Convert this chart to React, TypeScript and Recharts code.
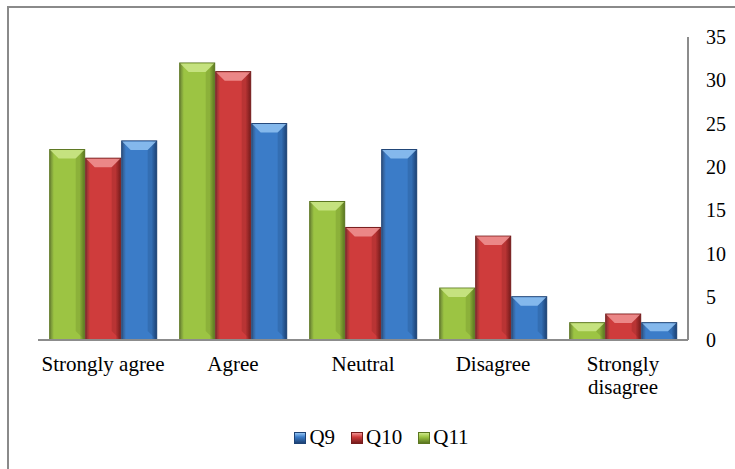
import React from "react"
import { BarChart, Bar, XAxis, YAxis } from "recharts"

const categories = ["Strongly agree", "Agree", "Neutral", "Disagree", "Strongly disagree"]
const q9 = [23, 25, 22, 5, 2]
const q10 = [21, 31, 13, 12, 3]
const q11 = [22, 32, 16, 6, 2]
const yTicks = [0, 5, 10, 15, 20, 25, 30, 35]

const data = categories.map((c, i) => ({ name: c, Q9: q9[i], Q10: q10[i], Q11: q11[i] }))

const FONT = "'Liberation Serif', 'Times New Roman', serif"

const palette: Record<string, { base: string; light: string; dark: string }> = {
    Q9: { base: "#3b7cc8", light: "#92c3f2", dark: "#1d4275" },
    Q10: { base: "#cf3c3c", light: "#f09494", dark: "#761c1c" },
    Q11: { base: "#9cc443", light: "#cde789", dark: "#5b7620" },
}

// beveled bar like the office 3d style
function makeShape(key: string) {
    const col = palette[key]
    // eslint-disable-next-line @typescript-eslint/no-explicit-any
    return (props: any) => {
        const { x, y, width, height } = props
        if (!height || height <= 0) return <g />
        const b = Math.min(9, height / 2, width / 3)
        return (
            <g>
                <rect x={x} y={y} width={width} height={height} fill={`url(#g-${key})`} stroke={col.dark} strokeWidth={1} />
                <polygon
                    points={`${x + 0.5},${y + 0.5} ${x + width - 0.5},${y + 0.5} ${x + width - b},${y + b} ${x + b},${y + b}`}
                    fill={col.light}
                    opacity={0.85}
                />
                <polygon
                    points={`${x + width - 0.5},${y + 0.5} ${x + width - 0.5},${y + height - 0.5} ${x + width - b},${y + height - b} ${x + width - b},${y + b}`}
                    fill={col.dark}
                    opacity={0.25}
                />
            </g>
        )
    }
}

// long labels go on two lines
// eslint-disable-next-line @typescript-eslint/no-explicit-any
function XTick({ x, y, payload }: any) {
    const label: string = payload.value
    const cut = label.lastIndexOf(" ")
    const lines = label.length > 15 && cut > 0 ? [label.slice(0, cut), label.slice(cut + 1)] : [label]
    return (
        <text x={x} y={y} textAnchor="middle" fill="#000" style={{ fontFamily: FONT, fontSize: 21 }}>
            {lines.map((l, i) => (
                <tspan key={i} x={x} dy={i === 0 ? "0.75em" : 23}>
                    {l}
                </tspan>
            ))}
        </text>
    )
}

const legendOrder = ["Q9", "Q10", "Q11"]

export default function App() {
    return (
        <div style={{ position: "absolute", left: 0, top: 0, width: 735, height: 469, overflow: "hidden", background: "#fff" }}>
            <div
                style={{
                    position: "absolute",
                    left: 7,
                    top: 6,
                    width: 740,
                    height: 480,
                    border: "2px solid #8a8a8a",
                    boxSizing: "border-box",
                }}
            />
            <BarChart
                width={735}
                height={469}
                data={data}
                margin={{ top: 37, right: 0, left: 38, bottom: 0 }}
                barCategoryGap="9%"
                barGap={1}
                style={{ position: "absolute", left: 0, top: 0 }}
            >
                <defs>
                    {Object.keys(palette).map((k) => (
                        <linearGradient key={k} id={`g-${k}`} x1="0" y1="0" x2="1" y2="0">
                            <stop offset="0%" stopColor={palette[k].dark} stopOpacity={0.9} />
                            <stop offset="12%" stopColor={palette[k].base} />
                            <stop offset="45%" stopColor={palette[k].base} />
                            <stop offset="85%" stopColor={palette[k].base} />
                            <stop offset="100%" stopColor={palette[k].dark} />
                        </linearGradient>
                    ))}
                </defs>
                <XAxis
                    dataKey="name"
                    height={129}
                    tickLine={false}
                    tickSize={0}
                    tickMargin={15}
                    interval={0}
                    axisLine={{ stroke: "#8c8c8c", strokeWidth: 2 }}
                    tick={<XTick />}
                />
                <YAxis
                    orientation="right"
                    width={47}
                    domain={[0, 35]}
                    ticks={yTicks}
                    tickLine={false}
                    tickSize={0}
                    tickMargin={18}
                    axisLine={{ stroke: "#8c8c8c", strokeWidth: 2 }}
                    tick={{ fill: "#000", fontSize: 20, fontFamily: FONT, textAnchor: "start" }}
                />
                <Bar dataKey="Q11" shape={makeShape("Q11")} isAnimationActive={false} />
                <Bar dataKey="Q10" shape={makeShape("Q10")} isAnimationActive={false} />
                <Bar dataKey="Q9" shape={makeShape("Q9")} isAnimationActive={false} />
            </BarChart>
            <div
                style={{
                    position: "absolute",
                    left: 8,
                    width: 747,
                    top: 425,
                    display: "flex",
                    justifyContent: "center",
                    gap: 16,
                    fontFamily: FONT,
                    fontSize: 21,
                    color: "#000",
                }}
            >
                {legendOrder.map((k) => (
                    <div key={k} style={{ display: "flex", alignItems: "center" }}>
                        <span
                            style={{
                                display: "inline-block",
                                width: 10,
                                height: 10,
                                marginRight: 3,
                                background: `linear-gradient(to bottom, ${palette[k].light} 0%, ${palette[k].base} 40%, ${palette[k].dark} 100%)`,
                                border: `1px solid ${palette[k].dark}`,
                            }}
                        />
                        <span>{k}</span>
                    </div>
                ))}
            </div>
        </div>
    )
}
